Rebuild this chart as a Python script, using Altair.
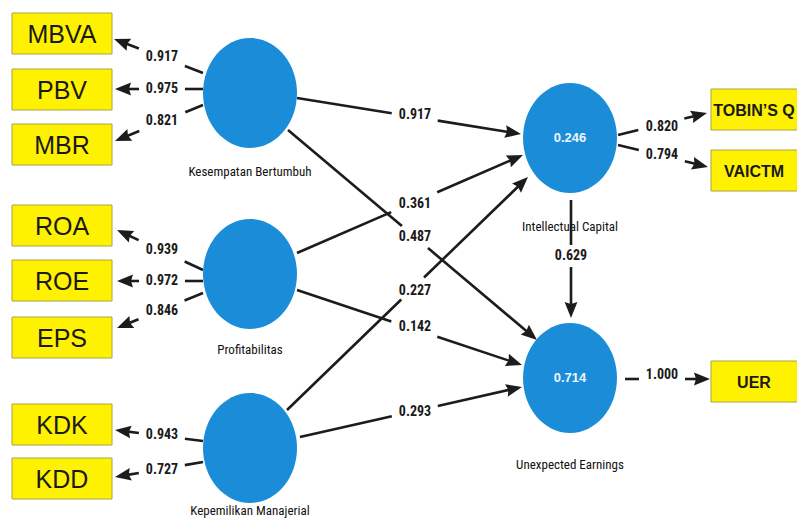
import math
import altair as alt
import pandas as pd

# ---------------- data ----------------
latent_names = ["Kesempatan Bertumbuh", "Profitabilitas", "Kepemilikan Manajerial",
                "Intellectual Capital", "Unexpected Earnings"]
latent_r2 = [None, None, None, 0.246, 0.714]

indicator_names = ["MBVA", "PBV", "MBR", "ROA", "ROE", "EPS", "KDK", "KDD",
                   "TOBIN\u2019S Q", "VAICTM", "UER"]
indicator_loading = [0.917, 0.975, 0.821, 0.939, 0.972, 0.846, 0.943, 0.727,
                     0.820, 0.794, 1.000]

path_source = ["Kesempatan Bertumbuh", "Profitabilitas", "Kepemilikan Manajerial",
               "Kesempatan Bertumbuh", "Profitabilitas", "Kepemilikan Manajerial",
               "Intellectual Capital"]
path_target = ["Intellectual Capital"] * 3 + ["Unexpected Earnings"] * 4
path_coef = [0.917, 0.361, 0.227, 0.487, 0.142, 0.293, 0.629]

# ---------------- layout (diagram positions, pixels) ----------------
latent_cx = [250, 250, 250, 570, 570]
latent_cy = [93, 274, 448, 138, 378]
latent_label_y = [172, 350, 511, 227, 465]

ind_box_x = [12] * 8 + [711] * 3
ind_box_y = [13, 69, 124, 205, 260, 317, 404, 458, 89, 150, 361]
ind_start = [(203, 73), (203, 89), (203, 105), (203, 270), (203, 281), (203, 293),
             (203, 441), (203, 462), (618, 135), (618, 145), (625, 379)]
ind_tip = [(114, 39), (115, 89), (115, 141), (117, 230), (117, 281), (117, 328),
           (115, 430), (115, 477), (707, 113), (708, 167), (710, 379)]
ind_label = [(162, 57), (162, 89), (162, 121), (162, 250), (162, 281), (162, 311),
             (162, 435), (162, 470), (662, 127), (662, 155), (662, 375)]

path_start = [(297, 98), (297, 253), (287, 410), (288, 130), (297, 290), (300, 437), (571, 200)]
path_tip = [(521, 134), (523, 155), (528, 177), (537, 340), (522, 365), (522, 387), (571, 318)]
path_label = [(415, 115), (415, 204), (415, 291), (415, 237), (415, 327), (415, 412), (571, 256)]

BOX_W, BOX_H = 100, 41
RIGHT_TEXT_CX = 754
LAT_RX, LAT_RY = 47, 55
HW, HH = 23, 11  # half gap around labels
HEAD = 16

NARROW = "Liberation Sans Narrow, Arial Narrow, Roboto Condensed, DejaVu Sans Condensed, sans-serif"
SANS = "Liberation Sans, Arial, sans-serif"

# ---------------- build tables ----------------
seg_rows, head_rows, lab_rows = [], [], []


def add_edge(S, T, L, value):
    dx, dy = T[0] - S[0], T[1] - S[1]
    n = math.hypot(dx, dy)
    ux, uy = dx / n, dy / n
    tl = (L[0] - S[0]) * ux + (L[1] - S[1]) * uy
    d = min(HW / abs(ux) if abs(ux) > 1e-9 else 1e9, HH / abs(uy) if abs(uy) > 1e-9 else 1e9)
    a = (S[0] + (tl - d) * ux, S[1] + (tl - d) * uy)
    b = (S[0] + (tl + d) * ux, S[1] + (tl + d) * uy)
    e = (T[0] - HEAD * 0.7 * ux, T[1] - HEAD * 0.7 * uy)
    seg_rows.append({"x": S[0], "y": S[1], "x2": a[0], "y2": a[1]})
    seg_rows.append({"x": b[0], "y": b[1], "x2": e[0], "y2": e[1]})
    head_rows.append({"x": T[0], "y": T[1], "angle": math.degrees(math.atan2(uy, ux)) % 360})
    lab_rows.append({"x": L[0], "y": L[1], "text": f"{value:.3f}"})


for i, v in enumerate(indicator_loading):
    add_edge(ind_start[i], ind_tip[i], ind_label[i], v)
for i, v in enumerate(path_coef):
    add_edge(path_start[i], path_tip[i], path_label[i], v)

segs = pd.DataFrame(seg_rows)
heads = pd.DataFrame(head_rows)
labs = pd.DataFrame(lab_rows)

boxes = pd.DataFrame({
    "name": indicator_names,
    "x": ind_box_x,
    "x2": [x + BOX_W + (8 if x > 400 else 0) for x in ind_box_x],
    "y": ind_box_y,
    "y2": [y + BOX_H for y in ind_box_y],
    "cx": [x + BOX_W / 2 if x < 400 else RIGHT_TEXT_CX for x in ind_box_x],
    "cy": [y + BOX_H / 2 for y in ind_box_y],
})
left_boxes = boxes.iloc[:8]
right_boxes = boxes.iloc[8:]

lat = pd.DataFrame({"name": latent_names, "x": latent_cx, "y": latent_cy, "ly": latent_label_y})
lat_r2 = pd.DataFrame({
    "x": [latent_cx[i] for i in range(5) if latent_r2[i] is not None],
    "y": [latent_cy[i] for i in range(5) if latent_r2[i] is not None],
    "text": [f"{r:.3f}" for r in latent_r2 if r is not None],
})

# chart area covers page pixels 8..797 (x) and 8..519 (y)
xs = alt.Scale(domain=[8, 797], nice=False, zero=False)
ys = alt.Scale(domain=[8, 519], nice=False, zero=False, reverse=True)
X = lambda f="x": alt.X(f"{f}:Q", scale=xs, axis=None)
Y = lambda f="y": alt.Y(f"{f}:Q", scale=ys, axis=None)

rects = alt.Chart(boxes).mark_rect(fill="#fff200", stroke="#a8a44a", strokeWidth=1, clip=True).encode(
    x=X(), x2="x2:Q", y=Y(), y2="y2:Q")

left_txt = alt.Chart(left_boxes).mark_text(font=SANS, fontSize=25, color="#1a1a1a",
                                           align="center", baseline="middle", dy=1).encode(
    x=X("cx"), y=Y("cy"), text="name:N")
right_txt = alt.Chart(right_boxes).mark_text(font=SANS, fontSize=16, fontWeight="bold", color="#1a1a1a",
                                             align="center", baseline="middle", dy=1, clip=True).encode(
    x=X("cx"), y=Y("cy"), text="name:N")

lat_names = alt.Chart(lat).mark_text(font=NARROW, fontSize=13, color="#111111",
                                     align="center", baseline="middle").encode(
    x=X(), y=Y("ly"), text="name:N")

lines = alt.Chart(segs).mark_rule(color="#1c1c1c", strokeWidth=2.6, strokeCap="butt").encode(
    x=X(), y=Y(), x2="x2:Q", y2="y2:Q")

arrow_path = "M0,0 L-2,-0.8 L-1.75,0 L-2,0.8 Z"
arrows = alt.Chart(heads).mark_point(shape=arrow_path, filled=True, size=(2 * 8) ** 2,
                                     color="#1c1c1c", opacity=1, strokeWidth=0).encode(
    x=X(), y=Y(), angle=alt.Angle("angle:Q", scale=None))

r = LAT_RX / LAT_RY
ell_path = f"M{-r:.4f},0 A{r:.4f},1 0 1,1 {r:.4f},0 A{r:.4f},1 0 1,1 {-r:.4f},0 Z"
circles = alt.Chart(lat).mark_point(shape=ell_path, filled=True, size=(2 * LAT_RY) ** 2,
                                    color="#1b8dd8", opacity=1, strokeWidth=0).encode(
    x=X(), y=Y())

r2_txt = alt.Chart(lat_r2).mark_text(font=SANS, fontSize=13, fontWeight="bold", color="#eef6ff",
                                     align="center", baseline="middle").encode(
    x=X(), y=Y(), text="text:N")

coef_txt = alt.Chart(labs).mark_text(font=NARROW, fontSize=14, fontWeight="bold", color="#1a1a1a",
                                     align="center", baseline="middle").encode(
    x=X(), y=Y(), text="text:N")

chart = alt.layer(rects, left_txt, right_txt, lat_names, lines, arrows, circles, r2_txt, coef_txt).properties(
    width=789, height=511, padding=0, autosize="none", background="white"
).configure_view(strokeWidth=0)

chart.save("out.html", embed_options={"renderer": "svg", "actions": False})
